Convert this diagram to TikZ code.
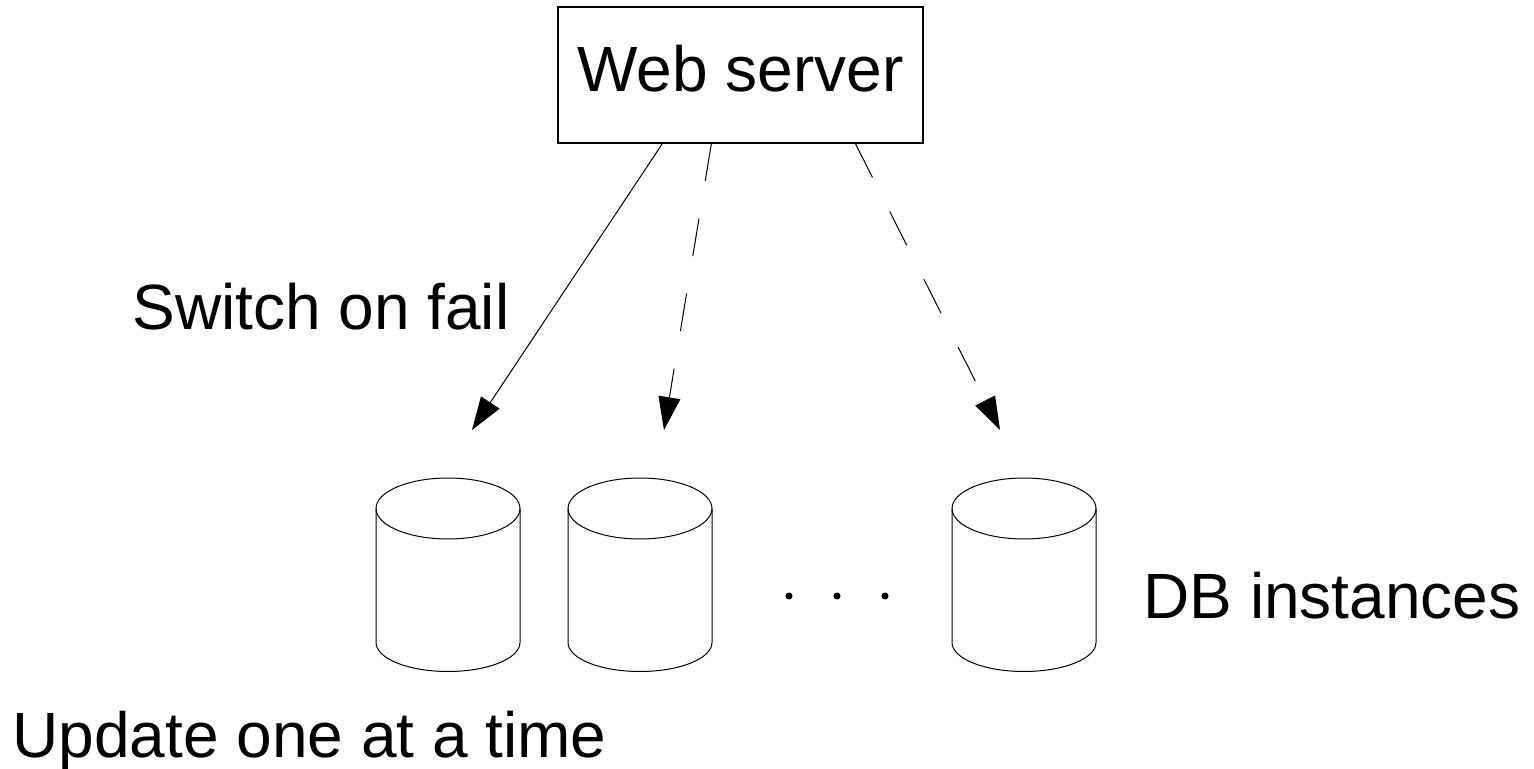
\documentclass[tikz,border=0pt]{standalone}
\usepackage{fontspec}
\setmainfont{Liberation Sans}
\usetikzlibrary{arrows.meta,calc}
\begin{document}
\begin{tikzpicture}[x=0.5pt,y=-0.5pt,
  lbl/.style={inner sep=0pt, font=\fontsize{32pt}{36pt}\selectfont},
  serverbox/.style={lbl, draw, line width=0.6pt, minimum width=182.5pt,
    minimum height=68pt, text height=22pt, text depth=5pt},
  link/.style={line width=0.5pt, -{Triangle[length=16.5pt,width=11pt]}},
  dashlink/.style={link, dash pattern=on 19pt off 19pt},
  dbcyl/.pic={
    \draw[line width=0.5pt] (-72,0) -- (-72,134)
      arc[start angle=180, end angle=0, x radius=72, y radius=29] -- (72,0);
    \draw[line width=0.5pt] (0,0) ellipse[x radius=72, y radius=30.5];
  }]
\useasboundingbox (0,0) rectangle (1534,769);

% web server
\node[serverbox] (ws) at (740.5,75) {Web server};

% database instances
\pic (db1) at (448,508.5) {dbcyl};
\pic (db2) at (640,508.5) {dbcyl};
\pic (db3) at (1024,508.5) {dbcyl};
\foreach \x in {789,837,885} \fill (\x,596) circle[radius=3.5];

% arrow tips above the databases
\coordinate (t1) at (472,430);
\coordinate (t2) at (664,430);
\coordinate (t3) at (1000,430);

\draw[link] ($(ws.south west)+(105,0)$) -- (t1);
\draw[dashlink] ($(ws.south west)+(154,0)$) -- (t2);
\draw[dashlink] ($(ws.south west)+(298,0)$) -- (t3);

% labels
\node[lbl, anchor=base west] (fail) at (132,330) {Switch on fail};
\node[lbl, anchor=base west] (inst) at (1143,618) {DB instances};
\node[lbl, anchor=base west] (upd) at (12,757) {Update one at a time};
\end{tikzpicture}
\end{document}
